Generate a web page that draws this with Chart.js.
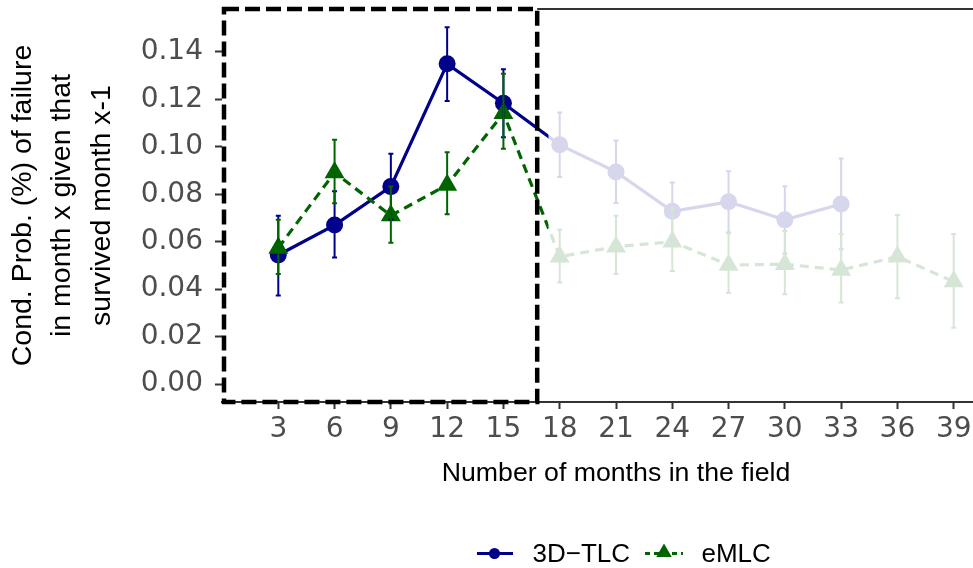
<!DOCTYPE html>
<html><head><meta charset="utf-8">
<script src="https://cdn.jsdelivr.net/npm/chart.js@4.4.1/dist/chart.umd.min.js"></script>
<style>html,body{margin:0;padding:0;background:#fff;overflow:hidden}</style>
</head><body>
<canvas id="c" width="1010" height="568"></canvas>
<script>
// ---- data ----
const months = [3, 6, 9, 12, 15, 18, 21, 24, 27, 30, 33, 36, 39];
const yTicks = [0, 0.02, 0.04, 0.06, 0.08, 0.10, 0.12, 0.14];
const tlc     = [0.0544, 0.0670, 0.0832, 0.1349, 0.1183, 0.1008, 0.0894, 0.0728, 0.0768, 0.0692, 0.0759];
const tlcLow  = [0.0373, 0.0533, 0.0694, 0.1193, 0.1040, 0.0873, 0.0763, 0.0607, 0.0639, 0.0550, 0.0568];
const tlcHigh = [0.0709, 0.0813, 0.0970, 0.1503, 0.1326, 0.1144, 0.1026, 0.0849, 0.0897, 0.0834, 0.0950];
const emlc     = [0.0574, 0.0891, 0.0710, 0.0839, 0.1141, 0.0537, 0.0579, 0.0600, 0.0502, 0.0505, 0.0481, 0.0537, 0.0432];
const emlcLow  = [0.0464, 0.0762, 0.0596, 0.0716, 0.0991, 0.0428, 0.0464, 0.0477, 0.0385, 0.0379, 0.0344, 0.0362, 0.0238];
const emlcHigh = [0.0692, 0.1029, 0.0832, 0.0977, 0.1307, 0.0650, 0.0709, 0.0741, 0.0636, 0.0645, 0.0632, 0.0713, 0.0633];
const seriesNames = ['3D\u2212TLC', 'eMLC'];
const highlightEnd = 16.8;   // end of highlighted window (months)
const fadeStart = 17.4;      // start of faded window (months)

const BLUE = '#00008B', GREEN = '#006400';
const SANS = '"Liberation Sans", Arial, Helvetica, sans-serif';

const overlay = {
  id: 'overlay',
  afterDatasetsDraw(chart) {
    const {ctx, chartArea: a, scales: {x, y}} = chart;
    const drawErr = (lo, hi, color) => {
      ctx.save();
      ctx.strokeStyle = color; ctx.lineWidth = 2;
      lo.forEach((l, i) => {
        const px = x.getPixelForValue(months[i]);
        const p1 = y.getPixelForValue(l), p2 = y.getPixelForValue(hi[i]);
        ctx.beginPath();
        ctx.moveTo(px, p1); ctx.lineTo(px, p2);
        ctx.moveTo(px - 2.5, p1); ctx.lineTo(px + 2.5, p1);
        ctx.moveTo(px - 2.5, p2); ctx.lineTo(px + 2.5, p2);
        ctx.stroke();
      });
      ctx.restore();
    };
    drawErr(tlcLow, tlcHigh, BLUE);
    drawErr(emlcLow, emlcHigh, GREEN);
    // fade the later months
    const xf = x.getPixelForValue(fadeStart);
    ctx.save();
    ctx.fillStyle = 'rgba(255,255,255,0.84)';
    ctx.fillRect(xf, a.top, a.right - xf, a.bottom - a.top - 1);
    // thin panel top line
    const xb = x.getPixelForValue(highlightEnd);
    ctx.strokeStyle = '#333'; ctx.lineWidth = 2;
    ctx.beginPath(); ctx.moveTo(xb, a.top); ctx.lineTo(a.right, a.top); ctx.stroke();
    // dashed highlight box
    ctx.strokeStyle = '#000'; ctx.lineWidth = 4.5; ctx.setLineDash([15, 6]);
    ctx.strokeRect(a.left + 2, a.top, xb - a.left - 2, a.bottom - a.top);
    ctx.restore();
  },
  afterDraw(chart) {
    const ctx = chart.ctx;
    ctx.save();
    const ly = 553.5;
    // item 1
    ctx.strokeStyle = BLUE; ctx.lineWidth = 3;
    ctx.beginPath(); ctx.moveTo(477, ly); ctx.lineTo(513, ly); ctx.stroke();
    ctx.fillStyle = BLUE; ctx.beginPath(); ctx.arc(494.5, ly, 5.5, 0, Math.PI * 2); ctx.fill();
    // item 2
    ctx.strokeStyle = GREEN; ctx.setLineDash([5, 4]);
    ctx.beginPath(); ctx.moveTo(645, ly); ctx.lineTo(683, ly); ctx.stroke();
    ctx.setLineDash([]);
    ctx.fillStyle = GREEN; ctx.beginPath();
    const r = 9, cx = 664, cy = ly - 1;
    for (let k = 0; k < 3; k++) {
      const ang = k * 2 * Math.PI / 3;
      const px = cx + Math.sin(ang) * r, py = cy - Math.cos(ang) * r;
      k ? ctx.lineTo(px, py) : ctx.moveTo(px, py);
    }
    ctx.closePath(); ctx.fill();
    ctx.fillStyle = '#000'; ctx.font = '26px ' + SANS; ctx.textBaseline = 'middle';
    ctx.fillText(seriesNames[0], 532.5, ly + 1);
    ctx.fillText(seriesNames[1], 701.5, ly + 1);
    ctx.restore();
  }
};

new Chart(document.getElementById('c'), {
  type: 'line',
  data: {
    datasets: [
      {
        label: seriesNames[1], order: 0,
        data: months.map((m, i) => ({x: m, y: emlc[i]})),
        borderColor: GREEN, backgroundColor: GREEN, borderWidth: 3.2, borderDash: [9, 6],
        pointStyle: 'triangle', pointRadius: 11.5, pointBorderWidth: 0, pointBackgroundColor: GREEN
      },
      {
        label: seriesNames[0], order: 1,
        data: tlc.map((v, i) => ({x: months[i], y: v})),
        borderColor: BLUE, backgroundColor: BLUE, borderWidth: 3.2,
        pointStyle: 'circle', pointRadius: 8.5, pointBorderWidth: 0, pointBackgroundColor: BLUE
      }
    ]
  },
  options: {
    responsive: false, animation: false, devicePixelRatio: 1,
    layout: {autoPadding: false, padding: {top: 9, left: 0, right: 0, bottom: 0}},
    plugins: {legend: {display: false}, tooltip: {enabled: false}},
    scales: {
      x: {
        type: 'linear', min: 0, max: 42,
        afterBuildTicks: s => { s.ticks = months.map(v => ({value: v})); },
        afterFit: s => { s.height = 166; s.paddingLeft = 0; s.paddingRight = 0; },
        grid: {drawOnChartArea: false, drawTicks: true, tickLength: 7, tickColor: '#333', tickWidth: 2},
        border: {display: true, color: '#333', width: 2},
        ticks: {color: '#4D4D4D', font: {family: '"DejaVu Sans"', size: 28}, padding: 4, maxRotation: 0, autoSkip: false},
        title: {display: true, text: 'Number of months in the field', color: '#000',
                font: {family: SANS, size: 26.7, lineHeight: 1.2}, padding: {top: 0, bottom: 78}}
      },
      y: {
        min: -0.0075, max: 0.158,
        afterBuildTicks: s => { s.ticks = yTicks.map(v => ({value: v})); },
        afterFit: s => { s.width = 222; s.paddingTop = 0; s.paddingBottom = 0; },
        grid: {drawOnChartArea: false, drawTicks: true, tickLength: 7, tickColor: '#333', tickWidth: 2},
        border: {display: false},
        ticks: {color: '#4D4D4D', font: {family: '"DejaVu Sans"', size: 28}, padding: 12,
                callback: v => v.toFixed(2)},
        title: {display: true, text: ['Cond. Prob. (%) of failure', 'in month x given that', 'survived month x-1'],
                color: '#000', font: {family: SANS, size: 28.5, lineHeight: '39.5px'}, padding: {top: 3, bottom: 0}}
      }
    }
  },
  plugins: [overlay]
});
</script>
</body></html>
